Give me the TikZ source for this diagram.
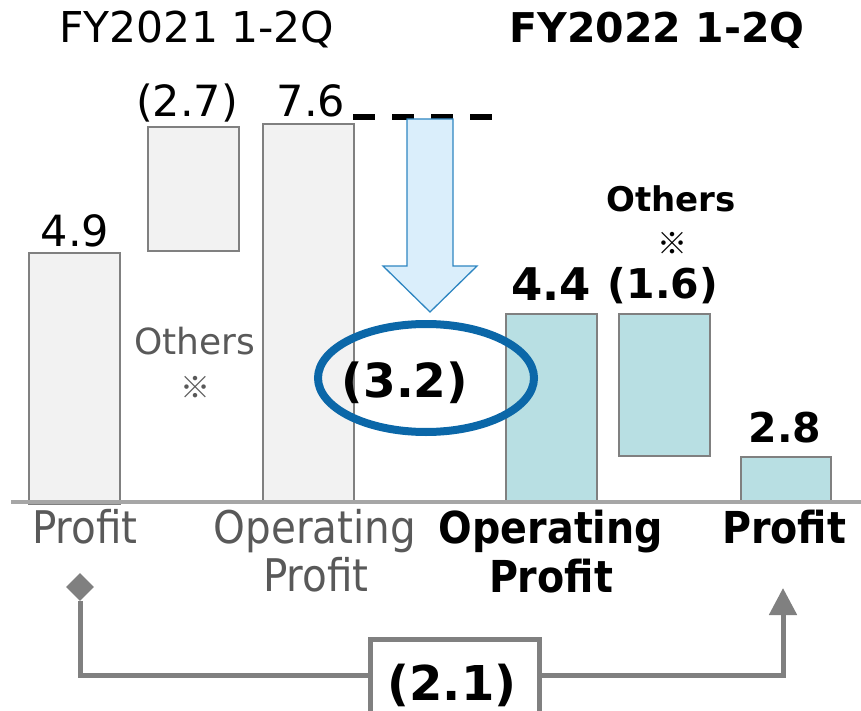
\documentclass[tikz,border=0pt]{standalone}
\usepackage{fontspec}
\setmainfont{DejaVu Sans}
\newfontfamily\cond{DejaVu Sans Condensed}
\newfontfamily\jpf{Noto Sans CJK JP}
\usetikzlibrary{arrows.meta,shapes.geometric}
\definecolor{barfillA}{HTML}{F2F2F2}
\definecolor{barfillB}{HTML}{B8DFE3}
\definecolor{barline}{HTML}{808080}
\definecolor{axisgray}{HTML}{A6A6A6}
\definecolor{txtgray}{HTML}{595959}
\definecolor{arrfill}{HTML}{DAEEFB}
\definecolor{arrline}{HTML}{2E86C1}
\definecolor{ellblue}{HTML}{0B67A8}
\tikzset{
  barA/.style={draw=barline, line width=2.2pt, fill=barfillA, inner sep=0pt, anchor=north west},
  barB/.style={draw=barline, line width=2.2pt, fill=barfillB, inner sep=0pt, anchor=north west},
  num/.style={anchor=base, inner sep=0pt, font=\fontsize{43}{48}\selectfont},
  bnum/.style={anchor=base, inner sep=0pt, font=\fontsize{41}{48}\selectfont\bfseries},
  lab/.style={anchor=base, inner sep=0pt, text=txtgray, font=\fontsize{45}{50}\selectfont\cond},
  blab/.style={anchor=base, inner sep=0pt, font=\fontsize{44}{50}\selectfont\cond\bfseries},
  conn/.style={draw=barline, line width=5pt},
}
\begin{document}
\begin{tikzpicture}[x=1pt,y=-1pt]
\clip (0,0) rectangle (861,711);
\useasboundingbox (0,0) rectangle (861,711);
% headers
\node[num, font=\fontsize{42.5}{48}\selectfont] (h21) at (197,43) {FY2021 1-2Q};
\node[bnum, font=\fontsize{41}{48}\selectfont\bfseries] (h22) at (657,43) {FY2022 1-2Q};
% bars
\node[barA, minimum width=91pt, minimum height=251pt] (b1) at (28,252) {};
\node[barA, minimum width=91pt, minimum height=124pt] (b2) at (147,126) {};
\node[barA, minimum width=91pt, minimum height=379pt] (b3) at (262,123) {};
\node[barB, minimum width=91pt, minimum height=189pt] (b4) at (505,313) {};
\node[barB, minimum width=91pt, minimum height=142pt] (b5) at (618,313) {};
\node[barB, minimum width=90pt, minimum height=46pt] (b6) at (740,456) {};
% axis
\draw[axisgray, line width=4pt] (11,502) -- (861,502);
% dashed level line
\coordinate (dl0) at (353,117);
\coordinate (dl1) at (492,117);
\draw[black, line width=6pt, dash pattern=on 22pt off 17pt] (dl0) -- (dl1);
% down arrow
\draw[draw=arrline, line width=1.3pt, fill=arrfill]
  (407,119) -- (453,119) -- (453,266) -- (477,266) -- (430,312) -- (383,266) -- (407,266) -- cycle;
% values
\node[num] (v1) at (75,247) {4.9};
\node[num] (v2) at (187,117) {(2.7)};
\node[num] (v3) at (311,117) {7.6};
\node[bnum, font=\fontsize{45}{48}\selectfont\bfseries] (v4) at (551,300) {4.4};
\node[bnum] (v5) at (663,298) {(1.6)};
\node[bnum] (v6) at (785,442) {2.8};
\node[anchor=base, inner sep=0pt, text=txtgray, font=\fontsize{36}{40}\selectfont] (o1) at (195,354) {Others};
\node[inner sep=0pt, text=txtgray, font=\fontsize{30}{36}\selectfont\jpf] (k1) at (195,387) {※};
\node[anchor=base, inner sep=0pt, font=\fontsize{34}{40}\selectfont\bfseries] (o2) at (671,212) {Others};
\node[inner sep=0pt, font=\fontsize{30}{36}\selectfont\jpf] (k2) at (672,243) {※};
% ellipse
\node[draw=ellblue, line width=8pt, ellipse, minimum width=216pt, minimum height=108pt, inner sep=0pt] (ell) at (426,378) {};
\node[anchor=base, inner sep=0pt, font=\fontsize{47}{52}\selectfont\bfseries] (v32) at (405,397) {(3.2)};
% category labels
\node[lab] (l1) at (85,543) {Profit};
\node[lab] (l2a) at (315,543) {Operating};
\node[lab] (l2b) at (316,591) {Profit};
\node[blab] (l3a) at (551,543) {Operating};
\node[blab] (l3b) at (551,592) {Profit};
\node[blab] (l4) at (784,543) {Profit};
% bottom comparison
\node[draw=barline, line width=5pt, fill=white, minimum width=169pt, minimum height=110pt, anchor=north west, inner sep=0pt] (box) at (368,637) {};
\node[anchor=base, inner sep=0pt, font=\fontsize{48}{52}\selectfont\bfseries] (v21) at (452,700) {(2.1)};
\node[diamond, fill=barline, minimum width=28pt, minimum height=28pt, inner sep=0pt] (dia) at (80,587) {};
\coordinate (tip) at (783,588);
\draw[conn] (dia.south) |- (box.west |- 0,675);
\draw[conn, -{Triangle[length=27pt,width=27pt]}] (box.east |- 0,675) -| (tip);
\end{tikzpicture}
\end{document}
